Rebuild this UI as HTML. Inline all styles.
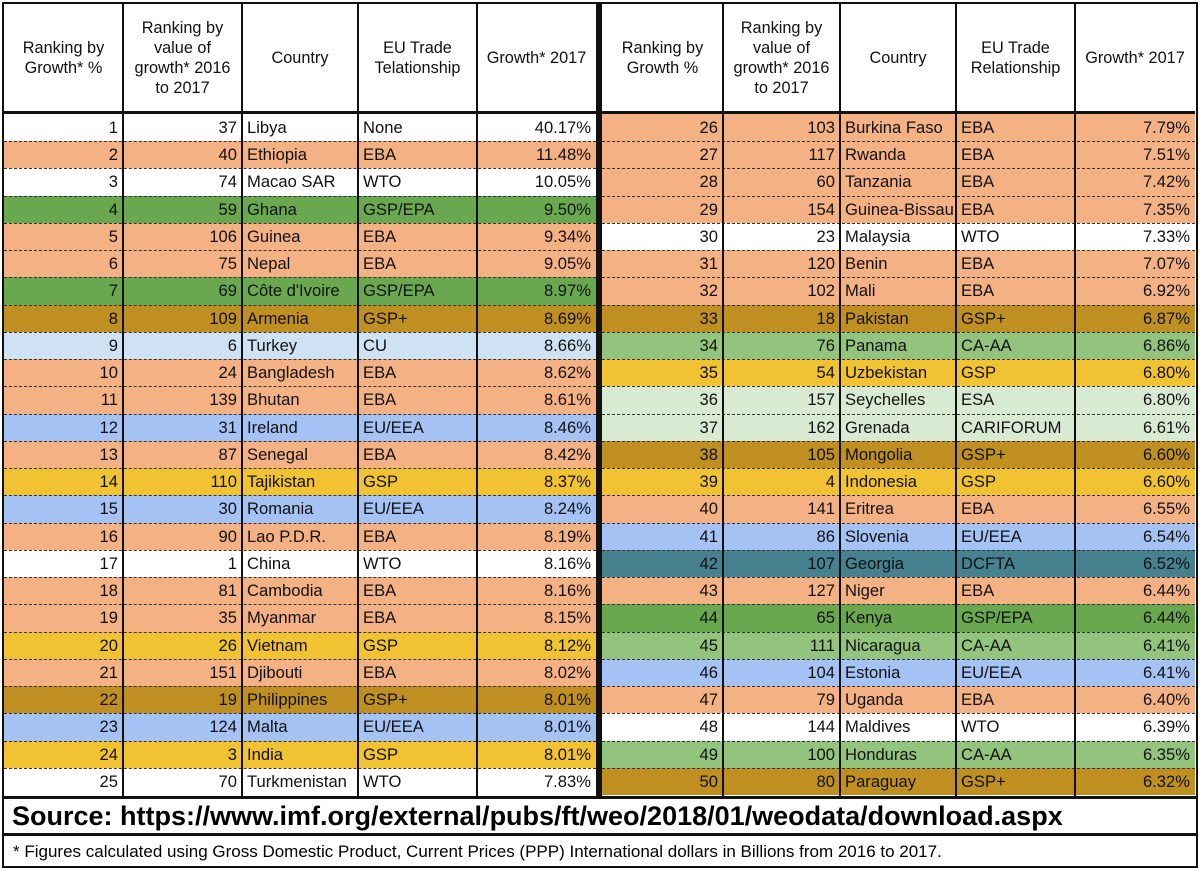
<!DOCTYPE html>
<html><head><meta charset="utf-8">
<style>
body{margin:0;width:1200px;height:871px;background:#fff;font-family:"Liberation Sans",sans-serif;overflow:hidden;position:relative}
.c{position:absolute;box-sizing:border-box;font-size:16.6px;line-height:27px;white-space:nowrap;overflow:hidden;color:#111}
.h{position:absolute;box-sizing:border-box;font-size:16.3px;line-height:20px;text-align:center;display:flex;align-items:center;justify-content:center;color:#111}
.vl{position:absolute;background:#111;width:2px}
.hl{position:absolute;height:0;border-top:1.5px dashed #333}
</style></head><body>
<div id="frame" style="position:absolute;left:2px;top:2px;width:1196px;height:866px;border:2px solid #111;box-sizing:border-box"></div>
<div id="tbl"></div>
<div style="position:absolute;left:4px;top:796px;width:1192px;height:40px;border-top:3px solid #111;border-bottom:3px solid #111;box-sizing:border-box;font-weight:bold;font-size:27px;line-height:34px;padding-left:8px;white-space:nowrap">Source: https://www.imf.org/external/pubs/ft/weo/2018/01/weodata/download.aspx</div>
<div style="position:absolute;left:4px;top:838px;width:1192px;height:28px;font-size:17px;line-height:28px;padding-left:9px;box-sizing:border-box;white-space:nowrap">* Figures calculated using Gross Domestic Product, Current Prices  (PPP) International dollars in Billions from 2016 to 2017.</div>
<script>
const ranks=[1,2,3,4,5,6,7,8,9,10,11,12,13,14,15,16,17,18,19,20,21,22,23,24,25,26,27,28,29,30,31,32,33,34,35,36,37,38,39,40,41,42,43,44,45,46,47,48,49,50];
const valueRanks=[37,40,74,59,106,75,69,109,6,24,139,31,87,110,30,90,1,81,35,26,151,19,124,3,70,103,117,60,154,23,120,102,18,76,54,157,162,105,4,141,86,107,127,65,111,104,79,144,100,80];
const countries=["Libya","Ethiopia","Macao SAR","Ghana","Guinea","Nepal","Côte d'Ivoire","Armenia","Turkey","Bangladesh","Bhutan","Ireland","Senegal","Tajikistan","Romania","Lao P.D.R.","China","Cambodia","Myanmar","Vietnam","Djibouti","Philippines","Malta","India","Turkmenistan","Burkina Faso","Rwanda","Tanzania","Guinea-Bissau","Malaysia","Benin","Mali","Pakistan","Panama","Uzbekistan","Seychelles","Grenada","Mongolia","Indonesia","Eritrea","Slovenia","Georgia","Niger","Kenya","Nicaragua","Estonia","Uganda","Maldives","Honduras","Paraguay"];
const relations=["None","EBA","WTO","GSP/EPA","EBA","EBA","GSP/EPA","GSP+","CU","EBA","EBA","EU/EEA","EBA","GSP","EU/EEA","EBA","WTO","EBA","EBA","GSP","EBA","GSP+","EU/EEA","GSP","WTO","EBA","EBA","EBA","EBA","WTO","EBA","EBA","GSP+","CA-AA","GSP","ESA","CARIFORUM","GSP+","GSP","EBA","EU/EEA","DCFTA","EBA","GSP/EPA","CA-AA","EU/EEA","EBA","WTO","CA-AA","GSP+"];
const growth=[40.17,11.48,10.05,9.50,9.34,9.05,8.97,8.69,8.66,8.62,8.61,8.46,8.42,8.37,8.24,8.19,8.16,8.16,8.15,8.12,8.02,8.01,8.01,8.01,7.83,7.79,7.51,7.42,7.35,7.33,7.07,6.92,6.87,6.86,6.80,6.80,6.61,6.60,6.60,6.55,6.54,6.52,6.44,6.44,6.41,6.41,6.40,6.39,6.35,6.32];
const colorMap={"None":"#ffffff","WTO":"#ffffff","EBA":"#f4b183","GSP/EPA":"#6aa84f","GSP+":"#bf9021","CU":"#cfe2f3","EU/EEA":"#a4c2f4","GSP":"#f1c232","CA-AA":"#93c47d","ESA":"#d9ead3","CARIFORUM":"#d9ead3","DCFTA":"#45818e"};
const T=document.getElementById('tbl');
const top0=114,rowH=27.24;
const panels=[[4,123,242,358,477,596],[602,723,840,956,1075,1195]];
const heads=[["Ranking by<br>Growth* %","Ranking by<br>value of<br>growth* 2016<br>to 2017","Country","EU Trade<br>Telationship","Growth* 2017"],["Ranking by<br>Growth %","Ranking by<br>value of<br>growth* 2016<br>to 2017","Country","EU Trade<br>Relationship","Growth* 2017"]];
function add(cls,css,html){const d=document.createElement('div');d.className=cls;d.style.cssText=css;if(html!==undefined)d.innerHTML=html;T.appendChild(d);return d;}
panels.forEach((xs,p)=>{
  for(let k=0;k<5;k++){
    const h=add('h',`left:${xs[k]}px;top:4px;width:${xs[k+1]-xs[k]}px;height:108px`,heads[p][k]);
    
    
  }
  for(let r=0;r<25;r++){
    const i=p*25+r;const y=top0+r*rowH;
    const bg=add('c',`left:${xs[0]}px;top:${y}px;width:${xs[5]-xs[0]}px;height:${rowH+0.5}px;background:${colorMap[relations[i]]}`);
    
    
    const vals=[ranks[i],valueRanks[i],countries[i],relations[i],growth[i].toFixed(2)+'%'];
    for(let k=0;k<5;k++){
      const right=(k<2||k==4);
      const c=add('c',`left:${xs[k]}px;top:${y}px;width:${xs[k+1]-xs[k]}px;height:${rowH}px;text-align:${right?'right':'left'};padding:0 ${right?5:0}px 0 ${right?0:5}px`,vals[k]);
      
      
    }
    if(r>0){const l=add('hl',`left:${xs[0]}px;top:${y}px;width:${xs[5]-xs[0]}px`);}
  }
  for(let k=1;k<5;k++){const v=add('vl',`left:${xs[k]-1}px;top:4px;height:792px`);}
  const hb=add('vl',`left:${xs[0]}px;top:111px;width:${xs[5]-xs[0]}px;height:3px`);
  
  
});
const mid=add('vl','left:596px;top:4px;width:6px;height:792px');


</script>
</body></html>
